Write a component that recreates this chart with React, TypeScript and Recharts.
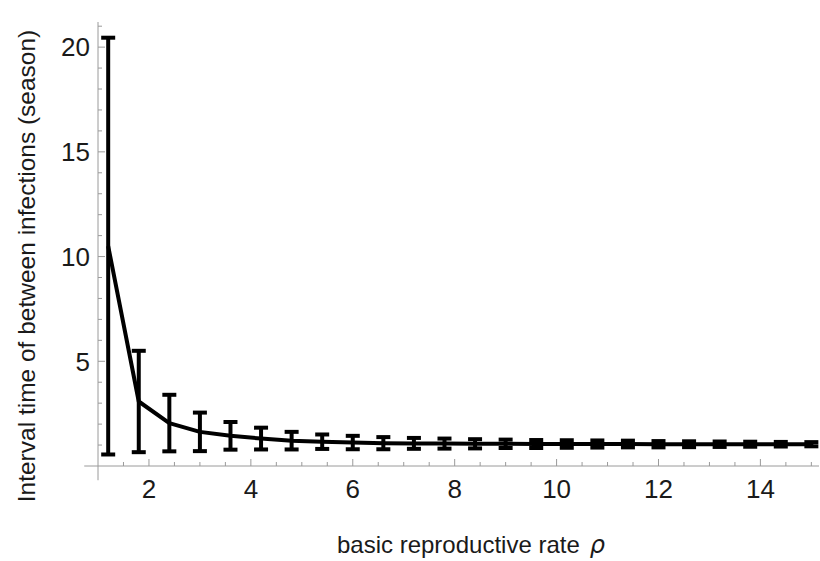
import React from 'react';
import { ComposedChart, Line, XAxis, YAxis, ErrorBar, ReferenceLine } from 'recharts';

const rho = [1.2, 1.8, 2.4, 3.0, 3.6, 4.2, 4.8, 5.4, 6.0, 6.6, 7.2, 7.8, 8.4, 9.0, 9.6, 10.2, 10.8, 11.4, 12.0, 12.6, 13.2, 13.8, 14.4, 15.0];
const meanInterval = [10.5, 3.08, 2.05, 1.63, 1.44, 1.31, 1.21, 1.16, 1.12, 1.09, 1.08, 1.07, 1.06, 1.06, 1.05, 1.05, 1.05, 1.05, 1.04, 1.04, 1.04, 1.04, 1.04, 1.04];
const errInterval = [9.95, 2.42, 1.35, 0.92, 0.66, 0.52, 0.42, 0.345, 0.32, 0.29, 0.26, 0.24, 0.22, 0.2, 0.19, 0.18, 0.17, 0.16, 0.15, 0.14, 0.13, 0.12, 0.11, 0.1];

const xTicks = [1.5, 2, 2.5, 3, 3.5, 4, 4.5, 5, 5.5, 6, 6.5, 7, 7.5, 8, 8.5, 9, 9.5, 10, 10.5, 11, 11.5, 12, 12.5, 13, 13.5, 14, 14.5, 15];
const xTickLabels = [2, 4, 6, 8, 10, 12, 14];
const yTicks = [1, 2, 3, 4, 5, 6, 7, 8, 9, 10, 11, 12, 13, 14, 15, 16, 17, 18, 19, 20, 21];
const yTickLabels = [5, 10, 15, 20];

const xTitle = 'basic reproductive rate';
const xTitleSymbol = 'ρ';
const yTitle = 'Interval time of between infections (season)';

const data = rho.map((r, i) => ({ rho: r, mean: meanInterval[i], err: errInterval[i] }));

const FONT = '"Liberation Sans", Arial, Helvetica, sans-serif';
const AXIS = '#9a9a9a';
const TEXT = '#1a1a1a';

const XTick = (props: any) => {
  const { x, y, payload } = props;
  const v = payload.value;
  const major = xTickLabels.includes(v);
  return (
    <g>
      <line x1={x} x2={x} y1={y} y2={y - (major ? 7 : 4)} stroke={AXIS} strokeWidth={1} />
      {major && (
        <text x={x} y={y + 32} textAnchor="middle" fontSize={26} fontFamily={FONT} fill={TEXT}>
          {v}
        </text>
      )}
    </g>
  );
};

const YTick = (props: any) => {
  const { x, y, payload } = props;
  const v = payload.value;
  const major = yTickLabels.includes(v);
  return (
    <g>
      <line x1={x} x2={x + (major ? 7 : 4)} y1={y} y2={y} stroke={AXIS} strokeWidth={1} />
      {major && (
        <text x={x - 8} y={y} dy="0.36em" textAnchor="end" fontSize={26} fontFamily={FONT} fill={TEXT}>
          {v}
        </text>
      )}
    </g>
  );
};

export default function App() {
  return (
    <div style={{ position: 'absolute', left: 0, top: 0, width: 820, height: 561, background: '#fff' }}>
      <ComposedChart
        width={820}
        height={561}
        data={data}
        margin={{ top: 22, right: 1, left: 0, bottom: 0 }}
      >
        <XAxis
          dataKey="rho"
          type="number"
          domain={[1, 15.15]}
          ticks={xTicks}
          interval={0}
          tickSize={0}
          tickMargin={0}
          tick={<XTick />}
          axisLine={{ stroke: AXIS, strokeWidth: 1 }}
          tickLine={false}
          height={95}
          allowDataOverflow
        />
        <YAxis
          type="number"
          domain={[0, 21.2]}
          ticks={yTicks}
          interval={0}
          tickSize={0}
          tickMargin={0}
          tick={<YTick />}
          axisLine={{ stroke: AXIS, strokeWidth: 1 }}
          tickLine={false}
          width={98}
          allowDataOverflow
        />
        <ReferenceLine
          segment={[{ x: 1, y: -0.68 }, { x: 1, y: 0 }]}
          stroke={AXIS}
          strokeWidth={1}
          ifOverflow="visible"
        />
        <ReferenceLine
          segment={[{ x: 0.73, y: 0 }, { x: 1, y: 0 }]}
          stroke={AXIS}
          strokeWidth={1}
          ifOverflow="visible"
        />
        <Line
          dataKey="mean"
          type="linear"
          stroke="#000"
          strokeWidth={4}
          strokeLinejoin="round"
          dot={false}
          activeDot={false}
          isAnimationActive={false}
        >
          <ErrorBar dataKey="err" direction="y" width={7} strokeWidth={4} stroke="#000" isAnimationActive={false} />
        </Line>
        <text x={471} y={553} textAnchor="middle" fontSize={24} fontFamily={FONT} fill={TEXT}>
          {xTitle}
          <tspan dx={10} fontStyle="italic" fontFamily='"DejaVu Sans", sans-serif'>{xTitleSymbol}</tspan>
        </text>
        <text
          transform="translate(35, 266) rotate(-90)"
          textAnchor="middle"
          fontSize={24.5}
          fontFamily={FONT}
          fill={TEXT}
        >
          {yTitle}
        </text>
      </ComposedChart>
    </div>
  );
}
